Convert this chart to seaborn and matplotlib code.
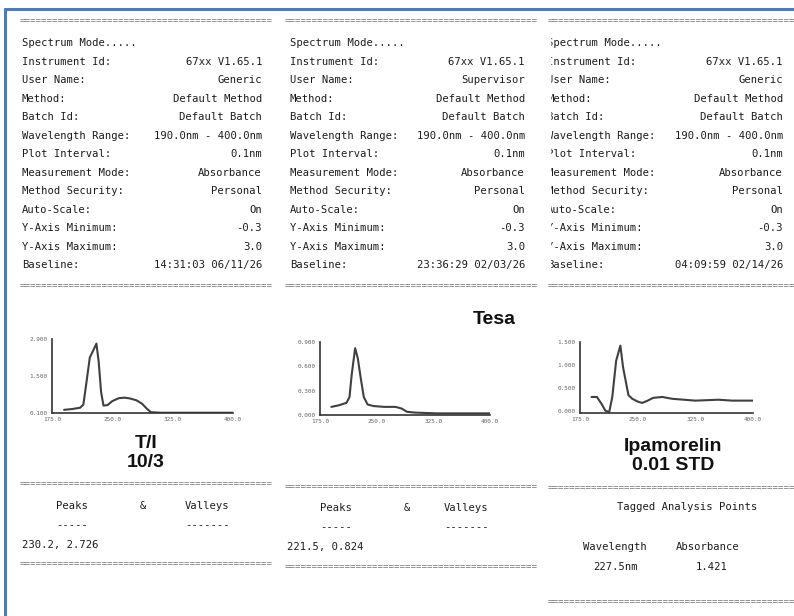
import pandas as pd
import matplotlib.pyplot as plt
import matplotlib.ticker as mtick
from matplotlib.patches import Rectangle
import seaborn as sns

# receipt header
header_labels = ["Instrument Id:", "User Name:", "Method:", "Batch Id:", "Wavelength Range:",
                 "Plot Interval:", "Measurement Mode:", "Method Security:", "Auto-Scale:",
                 "Y-Axis Minimum:", "Y-Axis Maximum:", "Baseline:"]
values_1 = ["67xx V1.65.1", "Generic", "Default Method", "Default Batch", "190.0nm - 400.0nm",
            "0.1nm", "Absorbance", "Personal", "On", "-0.3", "3.0", "14:31:03 06/11/26"]
values_2 = ["67xx V1.65.1", "Supervisor", "Default Method", "Default Batch", "190.0nm - 400.0nm",
            "0.1nm", "Absorbance", "Personal", "On", "-0.3", "3.0", "23:36:29 02/03/26"]
values_3 = ["67xx V1.65.1", "Generic", "Default Method", "Default Batch", "190.0nm - 400.0nm",
            "0.1nm", "Absorbance", "Personal", "On", "-0.3", "3.0", "04:09:59 02/14/26"]

# spectra (nm, absorbance)
wl_1 = [190, 200, 210, 214, 218, 222, 226, 230.2, 233, 236, 239, 244, 250, 258, 265, 272, 280, 287, 293, 298, 310, 350, 400]
ab_1 = [0.22, 0.25, 0.30, 0.42, 1.30, 2.20, 2.45, 2.726, 2.05, 0.90, 0.38, 0.40, 0.55, 0.66, 0.68, 0.65, 0.58, 0.45, 0.26, 0.13, 0.11, 0.11, 0.11]
wl_2 = [190, 200, 210, 214, 217, 221.5, 225, 229, 233, 238, 246, 260, 275, 283, 290, 300, 330, 360, 400]
ab_2 = [0.10, 0.12, 0.15, 0.22, 0.50, 0.824, 0.70, 0.45, 0.22, 0.13, 0.11, 0.10, 0.10, 0.08, 0.04, 0.03, 0.02, 0.02, 0.02]
wl_3 = [190, 197, 203, 208, 213, 217, 222, 227.5, 231, 235, 238, 243, 250, 256, 263, 270, 282, 295, 310, 325, 340, 355, 373, 400]
ab_3 = [0.30, 0.30, 0.15, 0.00, -0.03, 0.30, 1.09, 1.421, 0.95, 0.60, 0.34, 0.26, 0.20, 0.17, 0.22, 0.28, 0.30, 0.26, 0.24, 0.22, 0.23, 0.24, 0.22, 0.22]

x_ticks = [175, 250, 325, 400]
x_ticklabels = ["175.0", "250.0", "325.0", "400.0"]
y_ticks_1 = [0.1, 1.5, 2.9]
y_ticklabels_1 = ["0.100", "1.500", "2.900"]
y_ticks_2 = [0.0, 0.3, 0.6, 0.9]
y_ticklabels_2 = ["0.000", "0.300", "0.600", "0.900"]
y_ticks_3 = [0.0, 0.5, 1.0, 1.5]
y_ticklabels_3 = ["0.000", "0.500", "1.000", "1.500"]

sample_names = ["T/I\n10/3", "Tesa", "Ipamorelin\n0.01 STD"]
peaks_1 = "230.2, 2.726"
peaks_2 = "221.5, 0.824"
tagged_wl = "227.5nm"
tagged_abs = "1.421"

sns.set_style("white")
plt.rcParams['font.family'] = ['DejaVu Sans Mono', 'DejaVu Sans']

W, H = 794, 616
fig = plt.figure(figsize=(W / 100, H / 100), dpi=100)
bg = fig.add_axes([0, 0, 1, 1])
bg.set_xlim(0, W)
bg.set_ylim(H, 0)
bg.axis('off')

ink = '#1c1c1c'
rfont = dict(color=ink, fontsize=7.6, va='center')
sep_font = dict(color='#777777', fontsize=6.6, va='center', family='DejaVu Sans Mono')
big_font = dict(color='#111111', fontsize=14, fontweight='bold', family='Liberation Sans',
                ha='center', va='center')

# blue frame of the photo
bg.plot([5, 5], [9, H], color='#4a7dbf', lw=2.2, clip_on=False)
bg.plot([5, W], [9, 9], color='#4a7dbf', lw=2.2, clip_on=False)

columns = [(22, 262, 20, 46, values_1), (290, 525, 285, 46, values_2), (547, 783, 548, 45, values_3)]
for lx, rx, sx, n, vals in columns:
    bg.text(sx, 21, '=' * n, **sep_font)
    bg.text(lx, 43, "Spectrum Mode.....", ha='left', **rfont)
    for i, (lab, val) in enumerate(zip(header_labels, vals)):
        y = 62 + 18.45 * i
        bg.text(lx, y, lab, ha='left', **rfont)
        bg.text(rx, y, val, ha='right', **rfont)
    bg.text(sx, 286, '=' * n, **sep_font)

# third receipt is partly covered at its left edge
bg.add_patch(Rectangle((536, 32), 13.5, 245, color='white', zorder=5))

# peaks / valleys blocks
for sx, sy, row_y, px, ax_, vx, pk, end_y in [(20, 484, 506, 72, 143, 207, peaks_1, 564),
                                              (285, 487, 508, 336, 407, 466, peaks_2, 567)]:
    bg.text(sx, sy, '=' * 46, **sep_font)
    bg.text(px, row_y, "Peaks", ha='center', **rfont)
    bg.text(ax_, row_y, "&", ha='center', **rfont)
    bg.text(vx, row_y, "Valleys", ha='center', **rfont)
    bg.text(px, row_y + 19, "-----", ha='center', **rfont)
    bg.text(vx, row_y + 19, "-------", ha='center', **rfont)
    bg.text(sx + 2, row_y + 39, pk, ha='left', **rfont)
    bg.text(sx, end_y, '=' * 46, **sep_font)

bg.text(548, 488, '=' * 45, **sep_font)
bg.text(687, 507, "Tagged Analysis Points", ha='center', **rfont)
bg.text(615, 547, "Wavelength", ha='center', **rfont)
bg.text(708, 547, "Absorbance", ha='center', **rfont)
bg.text(616, 567, tagged_wl, ha='center', **rfont)
bg.text(712, 567, tagged_abs, ha='center', **rfont)
bg.text(548, 602, '=' * 45, **sep_font)

# sample names written on the printouts
bg.text(146, 453, sample_names[0], linespacing=1.1, **big_font)
bg.text(494, 320, sample_names[1], **big_font)
bg.text(673, 456, sample_names[2], linespacing=1.1, **big_font)

# spectra
plots = [((52, 339, 233, 413), wl_1, ab_1, (0.1, 2.9), y_ticks_1, y_ticklabels_1),
         ((320, 342, 490, 415), wl_2, ab_2, (0.0, 0.9), y_ticks_2, y_ticklabels_2),
         ((580, 342, 753, 413), wl_3, ab_3, (-0.05, 1.5), y_ticks_3, y_ticklabels_3)]
for (x0, y0, x1, y1), wl, ab, ylim, yt, ytl in plots:
    ax = fig.add_axes([x0 / W, 1 - y1 / H, (x1 - x0) / W, (y1 - y0) / H])
    ax.patch.set_alpha(0)
    df = pd.DataFrame({"wavelength": wl, "absorbance": ab})
    sns.lineplot(data=df, x="wavelength", y="absorbance", ax=ax, color='#404040', lw=1.5)
    ax.set_xlim(175, 400)
    ax.set_ylim(*ylim)
    ax.set_xticks(x_ticks)
    ax.set_xticklabels(x_ticklabels)
    ax.set_yticks(yt)
    ax.set_yticklabels(ytl)
    ax.xaxis.set_minor_locator(mtick.MultipleLocator(25))
    ax.yaxis.set_minor_locator(mtick.AutoMinorLocator(5))
    ax.tick_params(which='both', direction='out', length=2, width=0.8, color='#555555',
                   labelsize=4.3, labelcolor='#666666', pad=1)
    ax.tick_params(which='minor', length=1.5)
    ax.set_xlabel("")
    ax.set_ylabel("")
    for side in ['top', 'right']:
        ax.spines[side].set_visible(False)
    for side in ['left', 'bottom']:
        ax.spines[side].set_color('#333333')
        ax.spines[side].set_linewidth(1.2)

fig.savefig("out.png", dpi=100)
